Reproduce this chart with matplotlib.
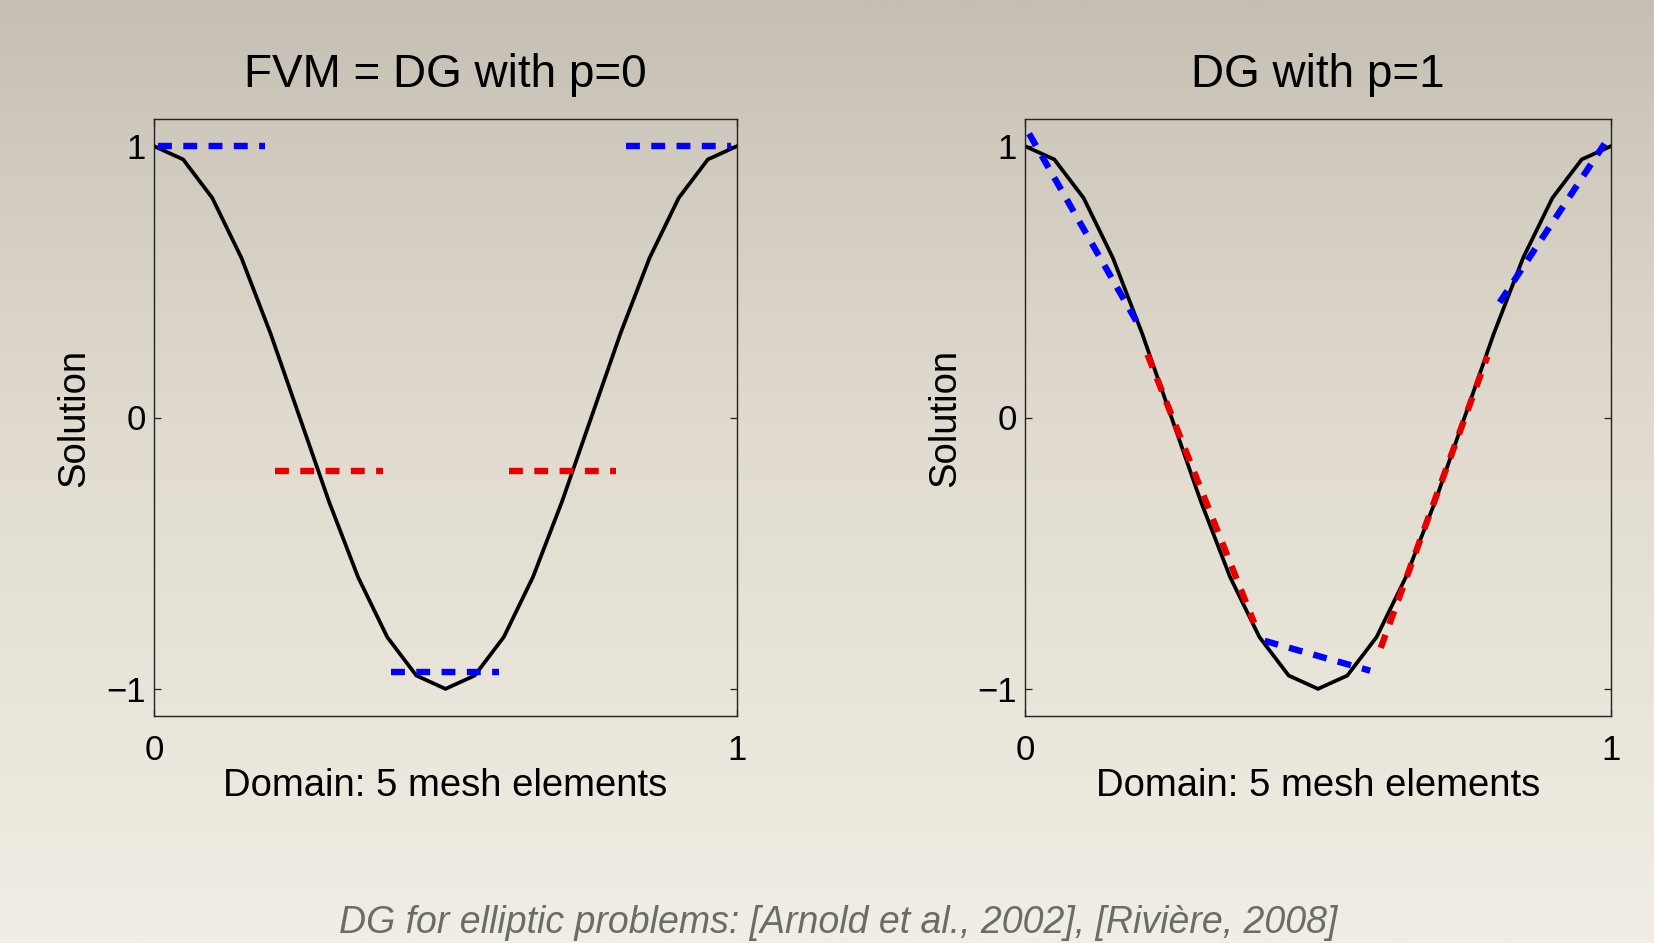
import numpy as np
import matplotlib
matplotlib.use("Agg")
import matplotlib.pyplot as plt
from matplotlib.colors import LinearSegmentedColormap

plt.rcParams['font.family'] = ['Liberation Sans', 'DejaVu Sans']
plt.rcParams['lines.scale_dashes'] = False

# ---------------- data ----------------
x_fine = [0.00, 0.05, 0.10, 0.15, 0.20, 0.25, 0.30, 0.35, 0.40, 0.45, 0.50,
          0.55, 0.60, 0.65, 0.70, 0.75, 0.80, 0.85, 0.90, 0.95, 1.00]
u_exact = [1.000, 0.951, 0.809, 0.588, 0.309, 0.000, -0.309, -0.588, -0.809, -0.951, -1.000,
           -0.951, -0.809, -0.588, -0.309, 0.000, 0.309, 0.588, 0.809, 0.951, 1.000]

# p = 0 (piecewise constant) on 5 elements
p0_start = [0.007, 0.207, 0.407, 0.609, 0.810]
p0_end = [0.190, 0.393, 0.591, 0.792, 0.990]
p0_value = [1.000, -0.196, -0.937, -0.196, 1.000]

# p = 1 (piecewise linear) on 5 elements
p1_start = [0.007, 0.209, 0.409, 0.607, 0.810]
p1_end = [0.190, 0.391, 0.589, 0.789, 0.989]
p1_left = [1.046, 0.232, -0.823, -0.849, 0.424]
p1_right = [0.355, -0.757, -0.933, 0.225, 1.009]

elem_colors = ['#0000ff', '#e80000', '#0000ff', '#e80000', '#0000ff']

titles = ["FVM = DG with p=0", "DG with p=1"]
xlabel = "Domain: 5 mesh elements"
ylabel = "Solution"
xtick_vals = [0, 1]
xtick_labels = ["0", "1"]
ytick_vals = [-1, 0, 1]
ytick_labels = ["\u22121", "0", "1"]
caption = "DG for elliptic problems: [Arnold et al., 2002], [Rivi\u00e8re, 2008]"

# ---------------- figure ----------------
W, H = 1654, 943
fig = plt.figure(figsize=(W / 100, H / 100), dpi=100)

# background gradient
bg = fig.add_axes([0, 0, 1, 1], zorder=-10)
stops = [(0.0, (196, 191, 178)), (0.15, (207, 202, 189)), (0.45, (224, 219, 206)),
         (0.8, (235, 231, 220)), (1.0, (241, 238, 230))]
cmap = LinearSegmentedColormap.from_list(
    "bg", [(p, tuple(c / 255 for c in col)) for p, col in stops])
grad = np.linspace(0, 1, 512).reshape(-1, 1)
bg.imshow(grad, aspect='auto', cmap=cmap, extent=[0, 1, 0, 1], origin='upper')
bg.set_axis_off()

bottom = 1 - 716 / H
height = 597 / H
ax1 = fig.add_axes([154 / W, bottom, 583 / W, height])
ax2 = fig.add_axes([1025 / W, bottom, 586 / W, height])

dash = (0, (10.0, 8.2))
lw_dash = 4.6
lw_curve = 2.7

for ax, title in zip([ax1, ax2], titles):
    ax.set_facecolor('none')
    ax.plot(x_fine, u_exact, color='black', lw=lw_curve, zorder=2,
            solid_joinstyle='miter')
    ax.set_xlim(0, 1)
    ax.set_ylim(-1.1, 1.1)
    ax.set_xticks(xtick_vals)
    ax.set_xticklabels(xtick_labels)
    ax.set_yticks(ytick_vals)
    ax.set_yticklabels(ytick_labels)
    ax.tick_params(axis='both', direction='in', length=4.8, width=0.9,
                   top=True, right=True, labelsize=25, colors='#222222',
                   labelcolor='black')
    ax.tick_params(axis='x', pad=13.0)
    ax.tick_params(axis='y', pad=5.8)
    for sp in ax.spines.values():
        sp.set_color('#222222')
        sp.set_linewidth(1.0)
    ax.set_title(title, fontsize=33, pad=23)
    ax.set_xlabel(xlabel, fontsize=27.5, labelpad=1)
    ax.set_ylabel(ylabel, fontsize=27.5, labelpad=10)

for xs, xe, v, c in zip(p0_start, p0_end, p0_value, elem_colors):
    ax1.plot([xs, xe], [v, v], color=c, lw=lw_dash, linestyle=dash,
             dash_capstyle='butt', zorder=3)

for xs, xe, vl, vr, c in zip(p1_start, p1_end, p1_left, p1_right, elem_colors):
    ax2.plot([xs, xe], [vl, vr], color=c, lw=lw_dash, linestyle=dash,
             dash_capstyle='butt', zorder=3)

fig.text(838 / W, (H - 933) / H, caption, fontsize=27, style='italic',
         color='#6a6c66', ha='center', va='baseline')

fig.savefig("out.png", dpi=100)
